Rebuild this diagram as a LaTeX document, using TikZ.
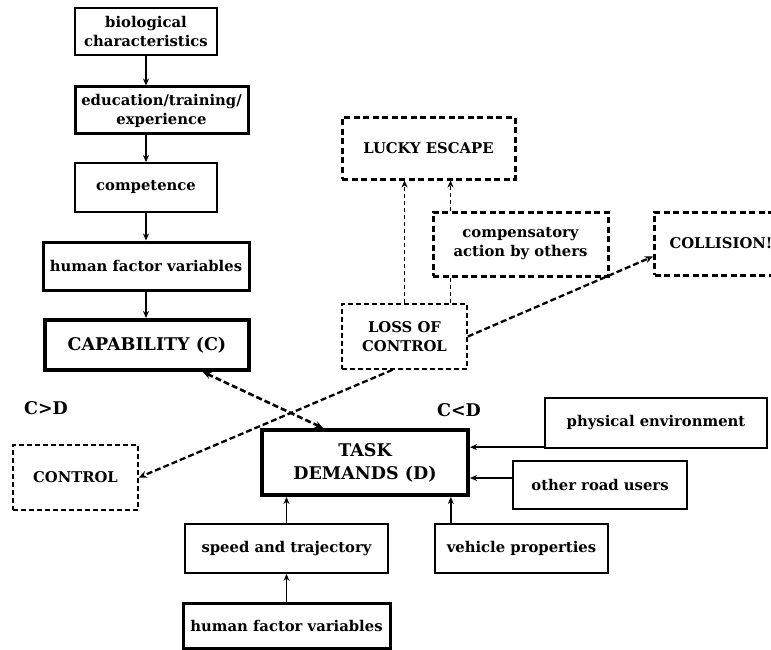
\documentclass[tikz,border=0pt]{standalone}
\usepackage{fontspec}
\setmainfont{DejaVu Serif}
\usetikzlibrary{arrows.meta,calc}
\begin{document}
\begin{tikzpicture}[x=1pt,y=-1pt,
  every node/.style={font=\fontsize{14.8}{19}\selectfont\bfseries, align=center, inner sep=0pt},
  big/.style={font=\fontsize{17.5}{23}\selectfont\bfseries},
  sz/.style 2 args={minimum width=#1, minimum height=#2},
  plainbox/.style={draw, line width=1.8pt},
  boldbox/.style={draw, line width=3pt},
  heavybox/.style={draw, line width=4pt},
  dashbox/.style={draw, line width=1.7pt, dash pattern=on 5pt off 3pt},
  dashboldbox/.style={draw, line width=3pt, dash pattern=on 6pt off 3.5pt},
  arr/.style={-{Stealth[length=7pt,width=6pt]}, line width=1.5pt},
  dline/.style={line width=1.5pt, dash pattern=on 4pt off 3pt},
  darr/.style={dline, -{Stealth[length=7pt,width=6pt]}},
  dwide/.style={line width=2.3pt, dash pattern=on 6pt off 3pt},
]
\useasboundingbox (0,0) rectangle (771,650);
\clip (0,0) rectangle (771,650);

% capability chain
\node[plainbox, sz={142}{47}] (bio) at (146,31.5) {biological\\characteristics};
\node[boldbox, sz={173}{47}] (edu) at (161.5,110.5) {education/training/\\experience};
\node[plainbox, sz={142}{49}] (compet) at (146,187.5) {competence};
\node[boldbox, sz={206}{48}] (hfvtop) at (146,266) {human factor variables};
\node[heavybox, big, sz={204}{50}] (cap) at (147,345) {CAPABILITY (C)};

\draw[arr] (bio.south) -- (bio.south |- edu.north);
\draw[arr] (edu.south -| bio.south) -- (compet.north);
\draw[arr] (compet.south) -- (hfvtop.north);
\draw[arr] (hfvtop.south) -- (cap.north -| hfvtop.south);

% outcomes
\node[dashboldbox, sz={173}{61}] (lucky) at (428.5,148.5) {LUCKY ESCAPE};
\node[dashboldbox, sz={175}{64}] (comp) at (520.5,244) {compensatory\\action by others};
\node[dashboldbox, anchor=west, minimum height=63, inner xsep=15pt] (collision) at (653,243.5) {COLLISION!};
\node[dashbox, sz={125}{65}] (loss) at (404.5,336.5) {LOSS OF\\CONTROL};
\node[dashbox, sz={125}{65}] (ctrl) at (75.5,477.5) {CONTROL};

\node[big] (cgd) at (46,408) {C>D};
\node[big] (cld) at (459,410) {C<D};

% task demands and its inputs
\node[heavybox, big, sz={206}{65}] (task) at (365,462.5) {TASK\\DEMANDS (D)};
\node[plainbox, sz={203}{49}] (speed) at (286.5,548.5) {speed and trajectory};
\node[boldbox, sz={207}{45}] (hfvbot) at (286.5,625.5) {human factor variables};
\node[plainbox, line width=2.3pt, sz={222}{50}] (phys) at (656,423) {physical environment};
\node[plainbox, line width=2.3pt, sz={174}{48}] (road) at (600,485) {other road users};
\node[plainbox, line width=2.3pt, sz={173}{49}] (vehicle) at (521.5,548.5) {vehicle properties};

\coordinate (pw) at ($(phys.south west)+(0,-2)$);
\coordinate (rw) at ($(road.west)+(0,-7)$);
\coordinate (vt) at ($(vehicle.north west)+(17,0)$);
\draw[arr, line width=2.2pt] (pw) -- (pw -| task.east);
\draw[arr, line width=2.2pt] (rw) -- (rw -| task.east);
\draw[arr] (vt) -- (vt |- task.south);
\draw[arr] (speed.north) -- (speed.north |- task.south);
\draw[arr] (hfvbot.north) -- (speed.south);

% dashed transitions
\coordinate (cx) at ($(comp.south west)+(19,0)$);
\coordinate (colin) at ($(collision.west)+(0,13)$);
\coordinate (lossout) at ($(loss.south)+(-12,0)$);
\coordinate (capout) at ($(cap.south)+(56,0)$);
\coordinate (taskin) at ($(task.north)+(-42,0)$);
\draw[darr] (loss.north) -- (loss.north |- lucky.south);
\draw[dline] (cx |- loss.north) -- (cx);
\draw[darr] (cx |- comp.north) -- (cx |- lucky.south);
\draw[dwide, -{Stealth[length=8pt,width=7pt]}] (loss.east) -- (colin);
\draw[dwide, -{Stealth[length=8pt,width=7pt]}] (lossout) -- (ctrl.east);
\draw[dwide, line width=2.6pt, {Stealth[length=8pt,width=7pt]}-{Stealth[length=8pt,width=7pt]}] (capout) -- (taskin);
\end{tikzpicture}
\end{document}
